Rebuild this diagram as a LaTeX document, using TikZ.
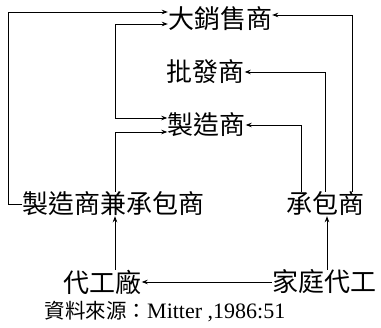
\documentclass[tikz,border=0pt]{standalone}
\usepackage{fontspec}
\setmainfont{Liberation Serif}
\newfontfamily\cjk{Noto Sans CJK TC}
\usetikzlibrary{arrows.meta}
\begin{document}
\begin{tikzpicture}[x=1pt,y=1pt,
  lbl/.style={inner sep=0pt, font=\cjk\fontsize{26}{28}\selectfont},
  conn/.style={line width=0.8pt, -{Stealth[length=6pt,width=4.5pt]}},
  plain/.style={line width=0.8pt}]
\useasboundingbox (0,0) rectangle (381,328);
\node[lbl] (A) at (220,309) {大銷售商};
\node[lbl] (B) at (205.5,256) {批發商};
\node[lbl] (C) at (206.5,203) {製造商};
\node[lbl] (D) at (113.5,124) {製造商兼承包商};
\node[lbl] (E) at (325.5,124) {承包商};
\node[lbl] (F) at (102.5,46) {代工廠};
\node[lbl] (G) at (324,46) {家庭代工};
\node[inner sep=0pt] (S) at (165,16) {{\cjk\fontsize{20.5}{22}\selectfont 資料來源：}{\fontsize{22}{24}\selectfont Mitter ,1986:51}};
% connectors
\draw[conn] (D.west) -- (8,124) |- ([yshift=7]A.west);
\draw[line width=0.8pt, {Stealth[length=6pt,width=4.5pt]}-{Stealth[length=6pt,width=4.5pt]}] ([yshift=-5]A.west) -| (115,210) -- ([yshift=7]C.west);
\draw[conn] (D.north -| 115,0) |- ([yshift=-7]C.west);
\draw[conn] (E.north -| 301,0) |- (C.east);
\draw[conn] (E.north -| 325,0) |- (B.east);
\draw[conn] (E.north -| 352,0) |- ([yshift=4]A.east);
\draw[conn] (F.north -| 115,0) -- (D.south -| 115,0);
\draw[conn] (G.north -| 327,0) -- (E.south -| 327,0);
\draw[conn] (G.west) -- (F.east);
\end{tikzpicture}
\end{document}
